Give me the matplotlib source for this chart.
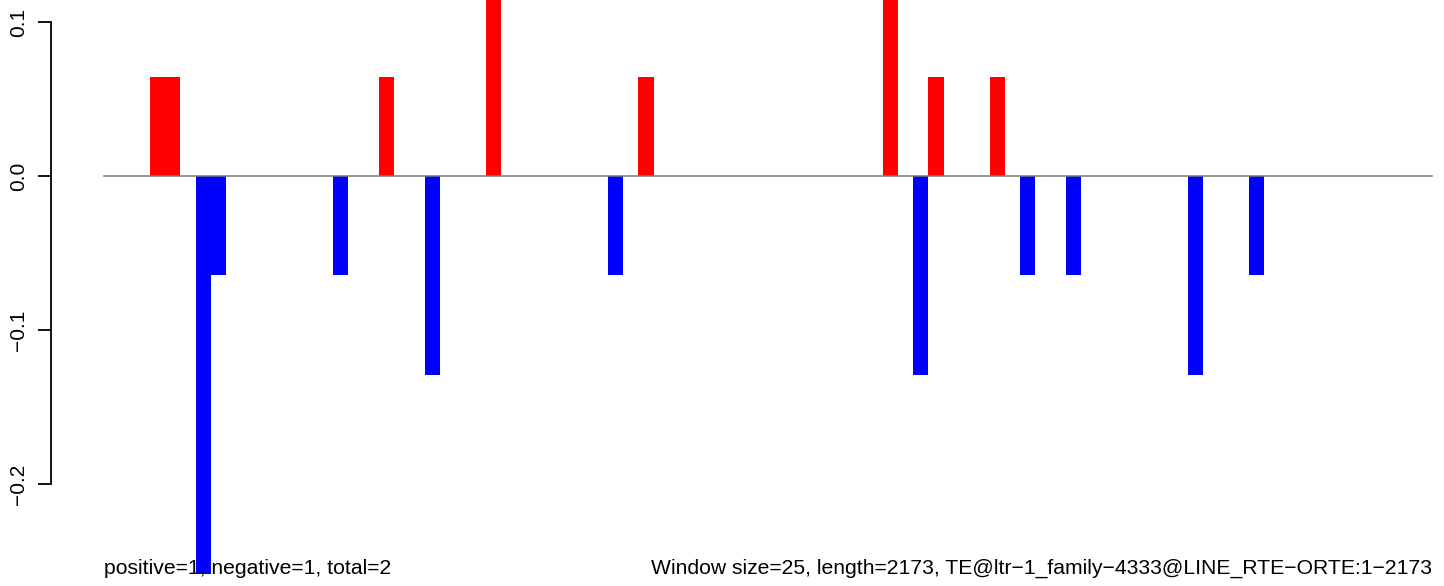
import matplotlib.pyplot as plt
import numpy as np

plt.rcParams['font.family'] = ['Liberation Sans', 'DejaVu Sans']

# window index (size 25 windows over length 2173) and bar heights
n_windows = 87
pos_windows = [3, 4, 18, 25, 35, 51, 54, 58]
pos_values = [0.0645, 0.0645, 0.0645, 0.129, 0.0645, 0.129, 0.0645, 0.0645]
neg_windows = [6, 7, 15, 21, 33, 53, 60, 63, 71, 75]
neg_values = [-0.258, -0.0645, -0.0645, -0.129, -0.0645, -0.129, -0.0645, -0.0645, -0.129, -0.0645]

yticks = [-0.2, -0.1, 0.0, 0.1]
ytick_labels = ["\u22120.2", "\u22120.1", "0.0", "0.1"]

left_text = "positive=1, negative=1, total=2"
right_text = "Window size=25, length=2173, TE@ltr\u22121_family\u22124333@LINE_RTE\u2212ORTE:1\u22122173"

W, H = 1444, 586
fig = plt.figure(figsize=(W / 100, H / 100), dpi=100)
ax_left = 50.7
ax = fig.add_axes([ax_left / W, 0, 1 - ax_left / W, 1])

slot = (1432.3 - 104) / n_windows
ax.set_xlim((ax_left - 104) / slot, (W - 104) / slot)
ax.set_ylim(-(H - 176.1) / 1541, 176.1 / 1541)

ax.bar(pos_windows, pos_values, width=1, align='edge', color='#ff0000', linewidth=0)
ax.bar(neg_windows, neg_values, width=1, align='edge', color='#0000ff', linewidth=0)
ax.plot([0, n_windows], [0, 0], color='#7a7a7a', lw=1.1, zorder=3)

for s in ['top', 'right', 'bottom']:
    ax.spines[s].set_visible(False)
ax.spines['left'].set_bounds(-0.2, 0.1)
ax.spines['left'].set_linewidth(1.3)
ax.set_xticks([])
ax.set_yticks(yticks)
ax.set_yticklabels(ytick_labels, fontsize=15)
ax.tick_params(axis='y', length=9.5, width=1.3, pad=7, labelrotation=90)
for lab in ax.get_yticklabels():
    lab.set_va('center')
ax.patch.set_alpha(0)

ax.text(0, (H - 574) / H, left_text, transform=ax.get_xaxis_transform(),
        ha='left', va='baseline', fontsize=15.2)
ax.text(n_windows, (H - 574) / H, right_text, transform=ax.get_xaxis_transform(),
        ha='right', va='baseline', fontsize=15.2)

fig.savefig('out.png', dpi=100)
